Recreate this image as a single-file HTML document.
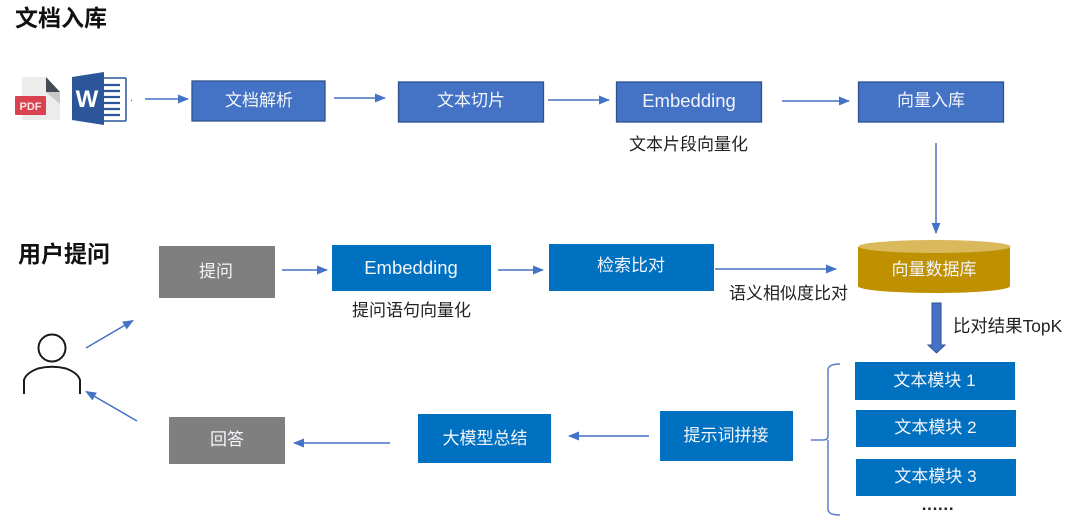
<!DOCTYPE html>
<html><head><meta charset="utf-8"><style>
html,body{margin:0;padding:0;background:#fff;width:1080px;height:528px;overflow:hidden}
svg{display:block}
text{font-family:"Liberation Sans","Noto Sans CJK SC",sans-serif}
.w{fill:#f2f5fa;font-size:17px;text-anchor:middle}
.e{fill:#f2f5fa;font-size:18.500px;text-anchor:middle}
.k{fill:#222;font-size:17px}
.h{fill:#111;font-size:23px;font-weight:bold}
.l{stroke:#4472c4;stroke-width:1.500;fill:none}
</style></head><body>
<svg width="1080" height="528" viewBox="0 0 1080 528">
<defs><marker id="a" markerWidth="11" markerHeight="10" refX="10" refY="4.500" orient="auto" markerUnits="userSpaceOnUse"><path d="M0 0L11 4.500L0 9z" fill="#4472c4"/></marker></defs>
<text class="h" x="15" y="26">文档入库</text>
<text class="h" x="18" y="262">用户提问</text>

<!-- PDF icon -->
<path d="M22 77H46L60 92V120H22z" fill="#ececec"/>
<path d="M46 92L60 92V104z" fill="#c9c9c9"/>
<path d="M46 77L60 92H46z" fill="#454a57"/>
<rect x="15" y="96" width="31" height="19" rx="1" fill="#d9434f"/>
<text x="30.500" y="110" font-size="11" font-weight="bold" fill="#f5e6e6" text-anchor="middle">PDF</text>
<!-- Word icon -->
<rect x="100" y="78" width="26" height="43" rx="1" fill="#fff" stroke="#2b579a" stroke-width="1.500"/>
<path d="M104 85h16M104 91h16M104 97h16M104 103h16M104 109h16M104 115h16" stroke="#2b579a" stroke-width="2.200"/>
<path d="M72 77L104 72V125L72 120z" fill="#2b579a"/>
<text x="87" y="107" font-size="24" font-weight="bold" fill="#fff" text-anchor="middle">W</text>
<rect x="131" y="100" width="1" height="1" fill="#555"/>

<!-- Top row -->
<g fill="#4472c4" stroke="#2f528f" stroke-width="1.300">
<rect x="192" y="81" width="133" height="40"/>
<rect x="398.500" y="82" width="145" height="40"/>
<rect x="616.500" y="82" width="145" height="40"/>
<rect x="858.500" y="82" width="145" height="40"/>
</g>
<text class="w" x="259" y="106">文档解析</text>
<text class="w" x="471" y="106">文本切片</text>
<text class="e" x="689" y="107">Embedding</text>
<text class="w" x="931" y="106">向量入库</text>
<text class="k" x="629" y="150">文本片段向量化</text>

<path class="l" marker-end="url(#a)" d="M145 99H188"/>
<path class="l" marker-end="url(#a)" d="M334 98H385"/>
<path class="l" marker-end="url(#a)" d="M548 100H609"/>
<path class="l" marker-end="url(#a)" d="M782 101H849"/>
<path class="l" marker-end="url(#a)" d="M936 143V233"/>
<path class="l" marker-end="url(#a)" d="M282 270H327"/>
<path class="l" marker-end="url(#a)" d="M498 270H543"/>
<path class="l" marker-end="url(#a)" d="M715 269H836"/>
<path class="l" marker-end="url(#a)" d="M86 348L133 320.500"/>
<path class="l" marker-end="url(#a)" d="M137 421L86 391.500"/>
<path class="l" marker-end="url(#a)" d="M649 436H569"/>
<path class="l" marker-end="url(#a)" d="M390 443H294"/>

<!-- Middle row -->
<rect x="159" y="246" width="116" height="52" fill="#7f7f7f"/>
<text class="w" x="216" y="277">提问</text>
<rect x="332" y="245" width="159" height="46" fill="#0070c0"/>
<text class="e" x="411" y="274">Embedding</text>
<rect x="549" y="244" width="165" height="47" fill="#0070c0"/>
<text class="w" x="631" y="271">检索比对</text>
<text class="k" x="352" y="316">提问语句向量化</text>
<text class="k" x="729" y="299">语义相似度比对</text>

<!-- Cylinder -->
<path d="M858 247V286C858 290 892 293 934.500 293S1010 290 1010 286V247z" fill="#bf9000"/>
<ellipse cx="934.500" cy="246.500" rx="76" ry="6.500" fill="#d9b95c"/>
<text class="w" x="934" y="275">向量数据库</text>

<!-- Block arrow -->
<path d="M932 303H941V345H945L936.500 353L928 345H932z" fill="#4472c4" stroke="#2f528f" stroke-width="1"/>
<text class="k" style="font-size:17.400px" x="953" y="332">比对结果TopK</text>

<!-- Person -->
<circle cx="52" cy="348" r="13.500" fill="none" stroke="#1a1a1a" stroke-width="2"/>
<path d="M24 394V380Q26 373 38 368.500Q52 365 66 368.500Q78 373 80 380V394" fill="none" stroke="#1a1a1a" stroke-width="2"/>

<!-- Bottom row -->
<rect x="169" y="417" width="116" height="47" fill="#7f7f7f"/>
<text class="w" x="227" y="445">回答</text>
<rect x="418" y="414" width="133" height="49" fill="#0070c0"/>
<text class="w" x="485" y="444">大模型总结</text>
<rect x="660" y="411" width="133" height="50" fill="#0070c0"/>
<text class="w" x="726" y="441">提示词拼接</text>

<!-- Brace -->
<path d="M811 440H823Q828 440 828 436V370Q828 364 840 364M828 440V509Q828 515 840 515" fill="none" stroke="#5b7fcb" stroke-width="1.500"/>

<!-- Text blocks -->
<rect x="855" y="362" width="160" height="38" fill="#0070c0"/>
<text class="w" x="934.500" y="386">文本模块 1</text>
<rect x="856" y="410" width="160" height="37" fill="#0070c0"/>
<text class="w" x="935.500" y="433">文本模块 2</text>
<rect x="856" y="459" width="160" height="37" fill="#0070c0"/>
<text class="w" x="935.500" y="482">文本模块 3</text>
<text x="938" y="510" font-size="17" font-weight="bold" letter-spacing="0.700" fill="#222" text-anchor="middle">......</text>
</svg>
</body></html>
